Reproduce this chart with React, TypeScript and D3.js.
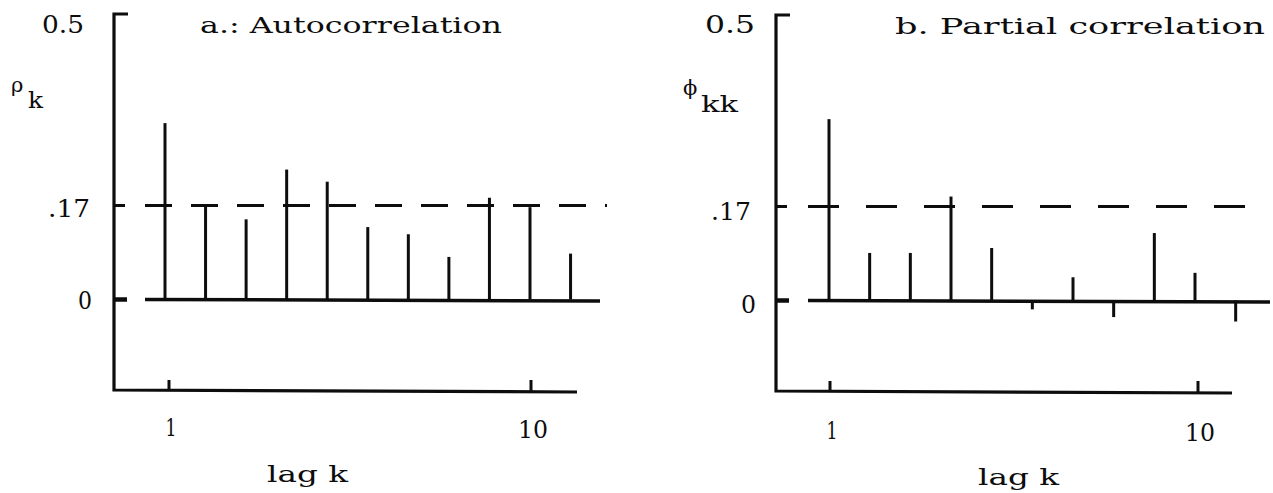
import React from "react";
import * as d3 from "d3";

// ---- data ----
const lags = [1, 2, 3, 4, 5, 6, 7, 8, 9, 10, 11];
const autocorrelation = [0.319, 0.17, 0.145, 0.235, 0.213, 0.131, 0.118, 0.077, 0.184, 0.167, 0.083];
const partialCorrelation = [0.328, 0.086, 0.086, 0.188, 0.095, -0.016, 0.042, -0.03, 0.122, 0.05, -0.038];
const significanceLevel = 0.17;
const yTickValues = [0, 0.17, 0.5];
const yTickLabels = ["0", ".17", "0.5"];
const xTickValues = [1, 10];
const xTickLabels = ["1", "10"];
const panelTitles = ["a.: Autocorrelation", "b. Partial correlation"];
const xAxisTitle = "lag k";

const FONT = "'DejaVu Serif', 'Liberation Serif', serif";
const INK = "#0d0d0d";

type Layout = {
  axisX: number;
  axisTop: number;
  axisBottom: number;
  axisRight: number;
  x1: number;
  x10: number;
  y0: number;
  y17: number;
  baseStart: number;
  baseEnd: number;
  dashEnd: number;
  dash: string;
  labelEnd: number[];
  labelBase: number[];
  labelLen: number[];
  titleX: number;
  titleLen: number;
  titleBase: number;
  xLabelBase: number[];
  xLabelShift: number[];
  xLabelLen: number[];
  lagX: number;
  lagBase: number;
  symbol: string;
  sub: string;
  symX: number;
  symBase: number;
  subX: number;
  subBase: number;
  subLen: number;
};

const layouts: Layout[] = [
  {
    axisX: 114, axisTop: 13, axisBottom: 390, axisRight: 577,
    x1: 165, x10: 530, y0: 299.5, y17: 205.5,
    baseStart: 145, baseEnd: 600, dashEnd: 607, dash: "27,19",
    labelEnd: [92, 90, 84], labelBase: [309, 217, 33], labelLen: [14, 42, 42],
    titleX: 200, titleLen: 302, titleBase: 33,
    xLabelBase: [436, 438], xLabelShift: [6, 3], xLabelLen: [11, 30],
    lagX: 267, lagBase: 482,
    symbol: "ρ", sub: "k", symX: 11, symBase: 92, subX: 28, subBase: 108, subLen: 15,
  },
  {
    axisX: 776, axisTop: 14, axisBottom: 391, axisRight: 1232,
    x1: 829, x10: 1195, y0: 300.5, y17: 206.5,
    baseStart: 808, baseEnd: 1270, dashEnd: 1270, dash: "31,27",
    labelEnd: [756, 751, 755], labelBase: [313, 220, 33], labelLen: [15, 40, 50],
    titleX: 895, titleLen: 370, titleBase: 34,
    xLabelBase: [439, 441], xLabelShift: [3, 5], xLabelLen: [11, 30],
    lagX: 978, lagBase: 485,
    symbol: "ϕ", sub: "kk", symX: 683, symBase: 95, subX: 701, subBase: 112, subLen: 37,
  },
];

function Panel({ values, title, L }: { values: number[]; title: string; L: Layout }) {
  const x = d3.scaleLinear().domain([1, 10]).range([L.x1, L.x10]);
  const y = d3.scaleLinear().domain([0, 0.17]).range([L.y0, L.y17]);
  const axisPath = d3.path();
  axisPath.moveTo(L.axisX + 14, L.axisTop + 1);
  axisPath.lineTo(L.axisX, L.axisTop + 1);
  axisPath.lineTo(L.axisX, L.axisBottom);
  axisPath.lineTo(L.axisRight, L.axisBottom + 2);
  return (
    <g>
      {/* axes */}
      <path d={axisPath.toString()} fill="none" stroke={INK} strokeWidth={3.2} />
      {/* y ticks (0 and .17) */}
      {yTickValues.slice(0, 2).map((v, i) => (
        <line key={"yt" + i} x1={L.axisX} x2={L.axisX + (i === 0 ? 13 : 11)} y1={y(v)} y2={y(v)}
          stroke={INK} strokeWidth={i === 0 ? 4.5 : 3} />
      ))}
      {/* y tick labels */}
      {yTickValues.map((v, i) => (
        <text key={"yl" + i} x={L.labelEnd[i]} y={L.labelBase[i]} textAnchor="end"
          fontFamily={FONT} fontSize={24} fill={INK}
          textLength={L.labelLen[i]} lengthAdjust="spacingAndGlyphs">{yTickLabels[i]}</text>
      ))}
      {/* x ticks */}
      {xTickValues.map((v, i) => (
        <g key={"xt" + i}>
          <line x1={x(v) + L.xLabelShift[i] - 2} x2={x(v) + L.xLabelShift[i] - 2}
            y1={L.axisBottom + 1} y2={L.axisBottom - 10} stroke={INK} strokeWidth={3} />
          <text x={x(v) + L.xLabelShift[i]} y={L.xLabelBase[i]} textAnchor="middle"
            fontFamily={FONT} fontSize={24} fill={INK}
            textLength={L.xLabelLen[i]} lengthAdjust="spacingAndGlyphs">{xTickLabels[i]}</text>
        </g>
      ))}
      {/* significance dashed line */}
      <line x1={L.baseStart} x2={L.dashEnd} y1={y(significanceLevel)} y2={y(significanceLevel)}
        stroke={INK} strokeWidth={3} strokeDasharray={L.dash} />
      {/* zero baseline */}
      <line x1={L.baseStart} x2={L.baseEnd} y1={y(0)} y2={y(0) + 1.5} stroke={INK} strokeWidth={3.5} />
      {/* stems */}
      {values.map((v, i) => (
        <line key={"s" + i} x1={x(lags[i])} x2={x(lags[i])} y1={y(0)} y2={y(v)}
          stroke={INK} strokeWidth={3} />
      ))}
      {/* titles */}
      <text x={L.titleX} y={L.titleBase} fontFamily={FONT} fontSize={22} fill={INK}
        textLength={L.titleLen} lengthAdjust="spacingAndGlyphs">{title}</text>
      <text x={L.lagX} y={L.lagBase} fontFamily={FONT} fontSize={23} fill={INK}
        textLength={81} lengthAdjust="spacingAndGlyphs">{xAxisTitle}</text>
      <text x={L.symX} y={L.symBase} fontFamily={FONT} fontSize={21} fill={INK}>{L.symbol}</text>
      <text x={L.subX} y={L.subBase} fontFamily={FONT} fontSize={22} fill={INK}
        textLength={L.subLen} lengthAdjust="spacingAndGlyphs">{L.sub}</text>
    </g>
  );
}

export default function App() {
  return (
    <svg width={1273} height={493} viewBox="0 0 1273 493"
      style={{ position: "absolute", left: 0, top: 0, background: "#fff" }}>
      <rect width={1273} height={493} fill="#fff" />
      <Panel values={autocorrelation} title={panelTitles[0]} L={layouts[0]} />
      <Panel values={partialCorrelation} title={panelTitles[1]} L={layouts[1]} />
    </svg>
  );
}
